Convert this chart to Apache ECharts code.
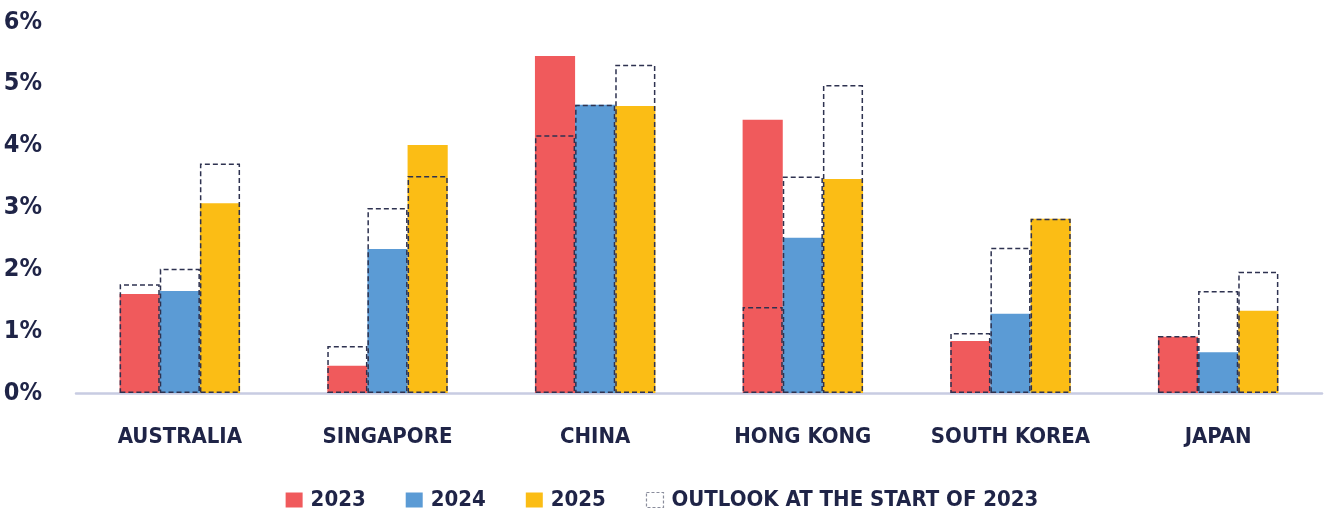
<!DOCTYPE html>
<html>
<head>
<meta charset="utf-8">
<script src="https://cdn.jsdelivr.net/npm/echarts@6/dist/echarts.min.js"></script>
<style>
  html, body { margin: 0; padding: 0; background: #fff; }
  #chart { width: 1324px; height: 512px; }
</style>
</head>
<body>
<div id="chart"></div>
<script>
var categories = ['AUSTRALIA', 'SINGAPORE', 'CHINA', 'HONG KONG', 'SOUTH KOREA', 'JAPAN'];
var years = ['2023', '2024', '2025'];
var actual2023 = [1.60, 0.44, 5.45, 4.42, 0.84, 0.91];
var actual2024 = [1.65, 2.33, 4.66, 2.51, 1.28, 0.66];
var actual2025 = [3.07, 4.01, 4.64, 3.46, 2.82, 1.33];
var outlook2023 = [1.76, 0.76, 4.17, 1.39, 0.97, 0.92];
var outlook2024 = [2.01, 2.99, 4.66, 3.50, 2.35, 1.65];
var outlook2025 = [3.71, 3.51, 5.31, 4.98, 2.82, 1.96];
var yTicks = [0, 1, 2, 3, 4, 5, 6];
var outlookName = 'OUTLOOK AT THE START OF 2023';

var colors = ['#f05a5c', '#5b9bd5', '#fbbd15'];
var navy = '#1f2447';
var font = '"Liberation Sans Narrow", "DejaVu Sans Condensed", "Liberation Sans", sans-serif';

var myChart = echarts.init(document.getElementById('chart'));

var actuals = [actual2023, actual2024, actual2025];
var outlooks = [outlook2023, outlook2024, outlook2025];
var series = [];
years.forEach(function(y, i) {
	series.push({
		name: y,
		type: 'bar',
		xAxisIndex: 0,
		barGap: 0,
		barCategoryGap: '42%',
		itemStyle: { color: colors[i] },
		data: actuals[i]
	});
});
// dashed outlook boxes sit on a hidden twin axis so they line up over the bars
years.forEach(function(y, i) {
	series.push({
		name: outlookName,
		type: 'bar',
		xAxisIndex: 1,
		barGap: 0,
		barCategoryGap: '42%',
		z: 3,
		itemStyle: {
			color: 'rgba(0,0,0,0)',
			borderColor: '#2e3250',
			borderWidth: 1.5,
			borderType: [5, 3]
		},
		data: outlooks[i]
	});
});

option = {
	animation: false,
	textStyle: { fontFamily: font },
	legend: {
		top: 484,
		left: 'center',
		icon: 'rect',
		itemWidth: 17,
		itemHeight: 15,
		itemGap: 40,
		textStyle: { color: navy, fontSize: 22, fontWeight: 'bold', fontFamily: font, padding: [0, 0, 0, 3] },
		data: [
			{ name: '2023' },
			{ name: '2024' },
			{ name: '2025' },
			{ name: outlookName, itemStyle: { color: '#fff', borderColor: '#8a8d9c', borderWidth: 1.2, borderType: [3, 2] } }
		]
	},
	grid: {
		top: 22,
		left: 76,
		right: 2,
		bottom: 119
	},
	xAxis: [{
		type: 'category',
		data: categories,
		axisLine: { lineStyle: { color: '#c8cce2', width: 2.5 } },
		axisTick: { show: false },
		axisLabel: { color: navy, fontSize: 22, fontWeight: 'bold', fontFamily: font, margin: 33 }
	}, {
		type: 'category',
		data: categories,
		show: false
	}],
	yAxis: {
		type: 'value',
		min: yTicks[0],
		max: yTicks[yTicks.length - 1],
		interval: 1,
		splitLine: { show: false },
		axisLine: { show: false },
		axisTick: { show: false },
		axisLabel: {
			formatter: '{value}%',
			color: navy,
			fontSize: 25,
			fontWeight: 'bold',
			fontFamily: font,
			margin: 34
		}
	},
	series: series
};
myChart.setOption(option);
</script>
</body>
</html>
